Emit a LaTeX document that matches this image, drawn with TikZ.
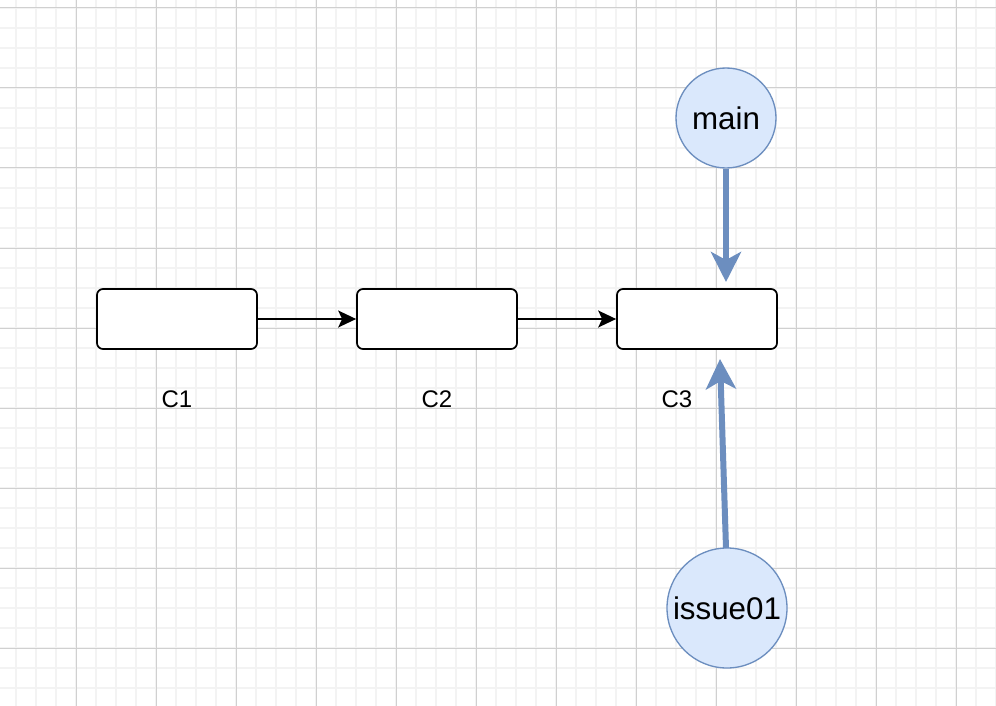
\documentclass[tikz,border=0pt]{standalone}
\usepackage{fontspec}
\setmainfont{Liberation Sans}
\usetikzlibrary{arrows.meta}
\definecolor{branchfill}{HTML}{DAE8FC}
\definecolor{branchline}{HTML}{6C8EBF}
\definecolor{gridminor}{HTML}{F3F3F3}
\definecolor{gridmajor}{HTML}{D0D0D0}

\begin{document}
\begin{tikzpicture}[x=0.75pt,y=-0.75pt,
  commit/.style={draw=black, fill=white, line width=1.3pt, rounded corners=4.5pt,
    minimum width=120pt, minimum height=45pt, inner sep=0pt},
  branch/.style={circle, draw=branchline, fill=branchfill, line width=1pt,
    inner sep=0pt, font=\fontsize{23.5}{25}\selectfont},
  commitlabel/.style={font=\fontsize{18}{20}\selectfont, inner sep=0pt},
  link/.style={line width=1.1pt, -{Stealth[length=13.5pt,width=12.75pt,inset=3pt]}},
  pointer/.style={draw=branchline, line width=4.5pt,
    -{Stealth[length=22.5pt,width=22.5pt,inset=6pt]}}]

% canvas and background grid
\useasboundingbox (0,0) rectangle (996,706);
\fill[white] (0,0) rectangle (996,706);
\foreach \x in {16,36,...,996}
  \draw[gridminor, line width=1.1pt] (\x,0) -- (\x,706);
\foreach \y in {8,28,...,706}
  \draw[gridminor, line width=1.1pt] (0,\y) -- (996,\y);
\foreach \x in {76,156,...,956}
  \draw[gridmajor, line width=0.75pt] (\x,0) -- (\x,706);
\foreach \y in {8,88,...,648}
  \draw[gridmajor, line width=0.75pt] (0,\y) -- (996,\y);

% commits
\node[commit] (c1) at (177,319) {};
\node[commit] (c2) at (437,319) {};
\node[commit] (c3) at (697,319) {};

\node[commitlabel] (l1) at (177,399) {C1};
\node[commitlabel] (l2) at (437,399) {C2};
\node[commitlabel] (l3) at (677,399) {C3};

\draw[link] (c1.east) -- (c2.west);
\draw[link] (c2.east) -- (c3.west);

% branch pointers
\node[branch, minimum size=75pt] (main) at (726,118) {main};
\node[branch, minimum size=90pt] (issue) at (727,608) {issue01};

\coordinate (maintip) at (726,282);
\coordinate (issuetip) at (720,359);
\coordinate (issuebase) at (726,548);

\draw[pointer] (main) -- (maintip);
\draw[pointer] (issuebase) -- (issuetip);
\end{tikzpicture}
\end{document}
